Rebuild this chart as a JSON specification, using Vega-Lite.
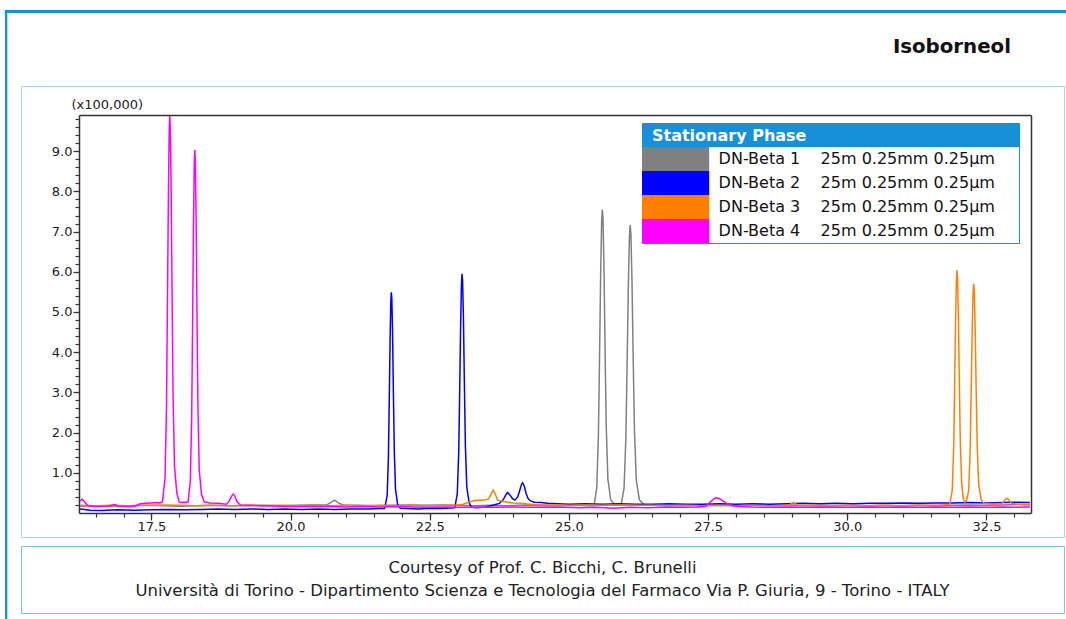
{
  "$schema": "https://vega.github.io/schema/vega-lite/v6.json",
  "padding": {"left": 5, "top": 10, "right": 0, "bottom": 0},
  "background": "white",
  "config": {
    "view": {"stroke": null},
    "font": "DejaVu Sans",
    "axis": {"grid": false, "labelFont": "DejaVu Sans", "labelFontSize": 13, "labelColor": "#222222", "tickColor": "#333333", "domainColor": "#333333", "domainWidth": 1.5, "tickWidth": 1.2, "titleFont": "DejaVu Sans"}
  },
  "datasets": {
    "trace": [
      {"p":"DN-Beta 1","t":16.22,"v":0.17},{"p":"DN-Beta 1","t":16.5,"v":0.18},{"p":"DN-Beta 1","t":16.8,"v":0.17},{"p":"DN-Beta 1","t":17.1,"v":0.18},{"p":"DN-Beta 1","t":17.4,"v":0.19},{"p":"DN-Beta 1","t":17.7,"v":0.18},{"p":"DN-Beta 1","t":18.0,"v":0.17},{"p":"DN-Beta 1","t":18.3,"v":0.18},{"p":"DN-Beta 1","t":18.6,"v":0.19},{"p":"DN-Beta 1","t":18.9,"v":0.18},{"p":"DN-Beta 1","t":19.2,"v":0.18},{"p":"DN-Beta 1","t":19.5,"v":0.19},{"p":"DN-Beta 1","t":19.8,"v":0.18},{"p":"DN-Beta 1","t":20.1,"v":0.19},{"p":"DN-Beta 1","t":20.4,"v":0.2},{"p":"DN-Beta 1","t":20.65,"v":0.2},{"p":"DN-Beta 1","t":20.72,"v":0.26},{"p":"DN-Beta 1","t":20.79,"v":0.32},{"p":"DN-Beta 1","t":20.86,"v":0.25},{"p":"DN-Beta 1","t":20.95,"v":0.2},{"p":"DN-Beta 1","t":21.2,"v":0.19},{"p":"DN-Beta 1","t":21.5,"v":0.18},{"p":"DN-Beta 1","t":21.8,"v":0.19},{"p":"DN-Beta 1","t":22.1,"v":0.2},{"p":"DN-Beta 1","t":22.4,"v":0.19},{"p":"DN-Beta 1","t":22.7,"v":0.2},{"p":"DN-Beta 1","t":23.0,"v":0.19},{"p":"DN-Beta 1","t":23.3,"v":0.18},{"p":"DN-Beta 1","t":23.6,"v":0.19},{"p":"DN-Beta 1","t":23.9,"v":0.18},{"p":"DN-Beta 1","t":24.2,"v":0.2},{"p":"DN-Beta 1","t":24.5,"v":0.19},{"p":"DN-Beta 1","t":24.8,"v":0.18},{"p":"DN-Beta 1","t":25.1,"v":0.19},{"p":"DN-Beta 1","t":25.35,"v":0.18},{"p":"DN-Beta 1","t":25.45,"v":0.18},{"p":"DN-Beta 1","t":25.5,"v":0.62},{"p":"DN-Beta 1","t":25.53,"v":1.95},{"p":"DN-Beta 1","t":25.55,"v":3.87},{"p":"DN-Beta 1","t":25.57,"v":5.93},{"p":"DN-Beta 1","t":25.588,"v":7.26},{"p":"DN-Beta 1","t":25.6,"v":7.55},{"p":"DN-Beta 1","t":25.612,"v":7.33},{"p":"DN-Beta 1","t":25.63,"v":6.08},{"p":"DN-Beta 1","t":25.65,"v":4.01},{"p":"DN-Beta 1","t":25.67,"v":2.17},{"p":"DN-Beta 1","t":25.7,"v":0.84},{"p":"DN-Beta 1","t":25.75,"v":0.33},{"p":"DN-Beta 1","t":25.82,"v":0.21},{"p":"DN-Beta 1","t":25.935,"v":0.19},{"p":"DN-Beta 1","t":25.99,"v":0.61},{"p":"DN-Beta 1","t":26.023,"v":1.86},{"p":"DN-Beta 1","t":26.045,"v":3.68},{"p":"DN-Beta 1","t":26.067,"v":5.63},{"p":"DN-Beta 1","t":26.087,"v":6.88},{"p":"DN-Beta 1","t":26.1,"v":7.16},{"p":"DN-Beta 1","t":26.113,"v":6.95},{"p":"DN-Beta 1","t":26.133,"v":5.77},{"p":"DN-Beta 1","t":26.155,"v":3.81},{"p":"DN-Beta 1","t":26.177,"v":2.07},{"p":"DN-Beta 1","t":26.21,"v":0.82},{"p":"DN-Beta 1","t":26.265,"v":0.33},{"p":"DN-Beta 1","t":26.34,"v":0.21},{"p":"DN-Beta 1","t":26.5,"v":0.19},{"p":"DN-Beta 1","t":26.8,"v":0.18},{"p":"DN-Beta 1","t":27.1,"v":0.19},{"p":"DN-Beta 1","t":27.4,"v":0.18},{"p":"DN-Beta 1","t":27.7,"v":0.19},{"p":"DN-Beta 1","t":28.0,"v":0.18},{"p":"DN-Beta 1","t":28.3,"v":0.19},{"p":"DN-Beta 1","t":28.6,"v":0.2},{"p":"DN-Beta 1","t":28.9,"v":0.19},{"p":"DN-Beta 1","t":29.2,"v":0.18},{"p":"DN-Beta 1","t":29.5,"v":0.19},{"p":"DN-Beta 1","t":29.8,"v":0.18},{"p":"DN-Beta 1","t":30.1,"v":0.19},{"p":"DN-Beta 1","t":30.4,"v":0.18},{"p":"DN-Beta 1","t":30.7,"v":0.19},{"p":"DN-Beta 1","t":31.0,"v":0.18},{"p":"DN-Beta 1","t":31.3,"v":0.19},{"p":"DN-Beta 1","t":31.6,"v":0.18},{"p":"DN-Beta 1","t":31.9,"v":0.19},{"p":"DN-Beta 1","t":32.2,"v":0.2},{"p":"DN-Beta 1","t":32.5,"v":0.19},{"p":"DN-Beta 1","t":32.8,"v":0.2},{"p":"DN-Beta 1","t":33.0,"v":0.21},{"p":"DN-Beta 1","t":33.28,"v":0.2},

      {"p":"DN-Beta 2","t":16.22,"v":0.1},{"p":"DN-Beta 2","t":16.4,"v":0.07},{"p":"DN-Beta 2","t":16.6,"v":0.06},{"p":"DN-Beta 2","t":16.9,"v":0.08},{"p":"DN-Beta 2","t":17.2,"v":0.07},{"p":"DN-Beta 2","t":17.5,"v":0.08},{"p":"DN-Beta 2","t":17.8,"v":0.09},{"p":"DN-Beta 2","t":18.1,"v":0.08},{"p":"DN-Beta 2","t":18.4,"v":0.09},{"p":"DN-Beta 2","t":18.7,"v":0.1},{"p":"DN-Beta 2","t":19.0,"v":0.09},{"p":"DN-Beta 2","t":19.3,"v":0.1},{"p":"DN-Beta 2","t":19.6,"v":0.09},{"p":"DN-Beta 2","t":19.9,"v":0.1},{"p":"DN-Beta 2","t":20.2,"v":0.09},{"p":"DN-Beta 2","t":20.5,"v":0.1},{"p":"DN-Beta 2","t":20.8,"v":0.09},{"p":"DN-Beta 2","t":21.1,"v":0.1},{"p":"DN-Beta 2","t":21.4,"v":0.1},{"p":"DN-Beta 2","t":21.6,"v":0.11},{"p":"DN-Beta 2","t":21.69,"v":0.11},{"p":"DN-Beta 2","t":21.735,"v":0.43},{"p":"DN-Beta 2","t":21.758,"v":1.4},{"p":"DN-Beta 2","t":21.773,"v":2.8},{"p":"DN-Beta 2","t":21.788,"v":4.31},{"p":"DN-Beta 2","t":21.801,"v":5.27},{"p":"DN-Beta 2","t":21.81,"v":5.49},{"p":"DN-Beta 2","t":21.819,"v":5.33},{"p":"DN-Beta 2","t":21.833,"v":4.41},{"p":"DN-Beta 2","t":21.848,"v":2.91},{"p":"DN-Beta 2","t":21.863,"v":1.56},{"p":"DN-Beta 2","t":21.885,"v":0.59},{"p":"DN-Beta 2","t":21.923,"v":0.22},{"p":"DN-Beta 2","t":21.97,"v":0.12},{"p":"DN-Beta 2","t":22.1,"v":0.11},{"p":"DN-Beta 2","t":22.3,"v":0.1},{"p":"DN-Beta 2","t":22.5,"v":0.12},{"p":"DN-Beta 2","t":22.7,"v":0.11},{"p":"DN-Beta 2","t":22.95,"v":0.13},{"p":"DN-Beta 2","t":22.995,"v":0.48},{"p":"DN-Beta 2","t":23.021,"v":1.53},{"p":"DN-Beta 2","t":23.038,"v":3.04},{"p":"DN-Beta 2","t":23.055,"v":4.67},{"p":"DN-Beta 2","t":23.07,"v":5.72},{"p":"DN-Beta 2","t":23.08,"v":5.95},{"p":"DN-Beta 2","t":23.09,"v":5.78},{"p":"DN-Beta 2","t":23.106,"v":4.79},{"p":"DN-Beta 2","t":23.123,"v":3.16},{"p":"DN-Beta 2","t":23.14,"v":1.7},{"p":"DN-Beta 2","t":23.165,"v":0.65},{"p":"DN-Beta 2","t":23.208,"v":0.25},{"p":"DN-Beta 2","t":23.25,"v":0.14},{"p":"DN-Beta 2","t":23.35,"v":0.13},{"p":"DN-Beta 2","t":23.5,"v":0.15},{"p":"DN-Beta 2","t":23.65,"v":0.2},{"p":"DN-Beta 2","t":23.75,"v":0.24},{"p":"DN-Beta 2","t":23.82,"v":0.33},{"p":"DN-Beta 2","t":23.87,"v":0.46},{"p":"DN-Beta 2","t":23.9,"v":0.51},{"p":"DN-Beta 2","t":23.94,"v":0.45},{"p":"DN-Beta 2","t":23.99,"v":0.35},{"p":"DN-Beta 2","t":24.03,"v":0.32},{"p":"DN-Beta 2","t":24.08,"v":0.4},{"p":"DN-Beta 2","t":24.12,"v":0.58},{"p":"DN-Beta 2","t":24.15,"v":0.72},{"p":"DN-Beta 2","t":24.17,"v":0.75},{"p":"DN-Beta 2","t":24.2,"v":0.66},{"p":"DN-Beta 2","t":24.23,"v":0.49},{"p":"DN-Beta 2","t":24.27,"v":0.35},{"p":"DN-Beta 2","t":24.31,"v":0.3},{"p":"DN-Beta 2","t":24.38,"v":0.27},{"p":"DN-Beta 2","t":24.5,"v":0.26},{"p":"DN-Beta 2","t":24.62,"v":0.24},{"p":"DN-Beta 2","t":24.8,"v":0.23},{"p":"DN-Beta 2","t":25.0,"v":0.22},{"p":"DN-Beta 2","t":25.3,"v":0.23},{"p":"DN-Beta 2","t":25.6,"v":0.22},{"p":"DN-Beta 2","t":25.9,"v":0.23},{"p":"DN-Beta 2","t":26.2,"v":0.22},{"p":"DN-Beta 2","t":26.5,"v":0.22},{"p":"DN-Beta 2","t":26.8,"v":0.23},{"p":"DN-Beta 2","t":27.1,"v":0.22},{"p":"DN-Beta 2","t":27.4,"v":0.22},{"p":"DN-Beta 2","t":27.7,"v":0.23},{"p":"DN-Beta 2","t":28.0,"v":0.22},{"p":"DN-Beta 2","t":28.3,"v":0.23},{"p":"DN-Beta 2","t":28.6,"v":0.22},{"p":"DN-Beta 2","t":28.9,"v":0.23},{"p":"DN-Beta 2","t":29.2,"v":0.24},{"p":"DN-Beta 2","t":29.5,"v":0.23},{"p":"DN-Beta 2","t":29.8,"v":0.24},{"p":"DN-Beta 2","t":30.1,"v":0.23},{"p":"DN-Beta 2","t":30.4,"v":0.24},{"p":"DN-Beta 2","t":30.7,"v":0.24},{"p":"DN-Beta 2","t":31.0,"v":0.25},{"p":"DN-Beta 2","t":31.3,"v":0.24},{"p":"DN-Beta 2","t":31.6,"v":0.25},{"p":"DN-Beta 2","t":31.9,"v":0.25},{"p":"DN-Beta 2","t":32.2,"v":0.26},{"p":"DN-Beta 2","t":32.5,"v":0.25},{"p":"DN-Beta 2","t":32.8,"v":0.26},{"p":"DN-Beta 2","t":33.0,"v":0.27},{"p":"DN-Beta 2","t":33.28,"v":0.26},

      {"p":"DN-Beta 3","t":16.22,"v":0.19},{"p":"DN-Beta 3","t":16.5,"v":0.18},{"p":"DN-Beta 3","t":16.8,"v":0.19},{"p":"DN-Beta 3","t":17.1,"v":0.18},{"p":"DN-Beta 3","t":17.4,"v":0.19},{"p":"DN-Beta 3","t":17.7,"v":0.2},{"p":"DN-Beta 3","t":18.0,"v":0.19},{"p":"DN-Beta 3","t":18.3,"v":0.18},{"p":"DN-Beta 3","t":18.6,"v":0.19},{"p":"DN-Beta 3","t":18.9,"v":0.18},{"p":"DN-Beta 3","t":19.2,"v":0.19},{"p":"DN-Beta 3","t":19.5,"v":0.18},{"p":"DN-Beta 3","t":19.8,"v":0.19},{"p":"DN-Beta 3","t":20.1,"v":0.18},{"p":"DN-Beta 3","t":20.4,"v":0.19},{"p":"DN-Beta 3","t":20.7,"v":0.18},{"p":"DN-Beta 3","t":21.0,"v":0.19},{"p":"DN-Beta 3","t":21.3,"v":0.18},{"p":"DN-Beta 3","t":21.6,"v":0.19},{"p":"DN-Beta 3","t":21.9,"v":0.18},{"p":"DN-Beta 3","t":22.2,"v":0.19},{"p":"DN-Beta 3","t":22.5,"v":0.18},{"p":"DN-Beta 3","t":22.8,"v":0.19},{"p":"DN-Beta 3","t":23.0,"v":0.2},{"p":"DN-Beta 3","t":23.1,"v":0.22},{"p":"DN-Beta 3","t":23.2,"v":0.27},{"p":"DN-Beta 3","t":23.3,"v":0.31},{"p":"DN-Beta 3","t":23.4,"v":0.32},{"p":"DN-Beta 3","t":23.5,"v":0.33},{"p":"DN-Beta 3","t":23.56,"v":0.35},{"p":"DN-Beta 3","t":23.6,"v":0.47},{"p":"DN-Beta 3","t":23.64,"v":0.57},{"p":"DN-Beta 3","t":23.68,"v":0.46},{"p":"DN-Beta 3","t":23.72,"v":0.32},{"p":"DN-Beta 3","t":23.84,"v":0.28},{"p":"DN-Beta 3","t":24.0,"v":0.25},{"p":"DN-Beta 3","t":24.14,"v":0.24},{"p":"DN-Beta 3","t":24.3,"v":0.22},{"p":"DN-Beta 3","t":24.5,"v":0.2},{"p":"DN-Beta 3","t":24.8,"v":0.2},{"p":"DN-Beta 3","t":25.0,"v":0.19},{"p":"DN-Beta 3","t":25.3,"v":0.2},{"p":"DN-Beta 3","t":25.6,"v":0.19},{"p":"DN-Beta 3","t":25.9,"v":0.2},{"p":"DN-Beta 3","t":26.2,"v":0.19},{"p":"DN-Beta 3","t":26.5,"v":0.19},{"p":"DN-Beta 3","t":26.8,"v":0.18},{"p":"DN-Beta 3","t":27.1,"v":0.19},{"p":"DN-Beta 3","t":27.4,"v":0.18},{"p":"DN-Beta 3","t":27.7,"v":0.19},{"p":"DN-Beta 3","t":28.0,"v":0.18},{"p":"DN-Beta 3","t":28.3,"v":0.19},{"p":"DN-Beta 3","t":28.6,"v":0.18},{"p":"DN-Beta 3","t":28.95,"v":0.19},{"p":"DN-Beta 3","t":29.03,"v":0.26},{"p":"DN-Beta 3","t":29.1,"v":0.2},{"p":"DN-Beta 3","t":29.4,"v":0.19},{"p":"DN-Beta 3","t":29.7,"v":0.18},{"p":"DN-Beta 3","t":30.0,"v":0.19},{"p":"DN-Beta 3","t":30.3,"v":0.18},{"p":"DN-Beta 3","t":30.6,"v":0.19},{"p":"DN-Beta 3","t":30.9,"v":0.18},{"p":"DN-Beta 3","t":31.2,"v":0.19},{"p":"DN-Beta 3","t":31.5,"v":0.19},{"p":"DN-Beta 3","t":31.7,"v":0.2},{"p":"DN-Beta 3","t":31.84,"v":0.21},{"p":"DN-Beta 3","t":31.885,"v":0.56},{"p":"DN-Beta 3","t":31.911,"v":1.61},{"p":"DN-Beta 3","t":31.928,"v":3.13},{"p":"DN-Beta 3","t":31.945,"v":4.76},{"p":"DN-Beta 3","t":31.96,"v":5.81},{"p":"DN-Beta 3","t":31.97,"v":6.04},{"p":"DN-Beta 3","t":31.98,"v":5.87},{"p":"DN-Beta 3","t":31.996,"v":4.87},{"p":"DN-Beta 3","t":32.013,"v":3.24},{"p":"DN-Beta 3","t":32.03,"v":1.78},{"p":"DN-Beta 3","t":32.055,"v":0.73},{"p":"DN-Beta 3","t":32.08,"v":0.38},{"p":"DN-Beta 3","t":32.11,"v":0.27},{"p":"DN-Beta 3","t":32.14,"v":0.3},{"p":"DN-Beta 3","t":32.18,"v":0.55},{"p":"DN-Beta 3","t":32.207,"v":1.54},{"p":"DN-Beta 3","t":32.225,"v":2.96},{"p":"DN-Beta 3","t":32.243,"v":4.49},{"p":"DN-Beta 3","t":32.259,"v":5.48},{"p":"DN-Beta 3","t":32.27,"v":5.7},{"p":"DN-Beta 3","t":32.281,"v":5.54},{"p":"DN-Beta 3","t":32.297,"v":4.6},{"p":"DN-Beta 3","t":32.315,"v":3.07},{"p":"DN-Beta 3","t":32.333,"v":1.7},{"p":"DN-Beta 3","t":32.36,"v":0.71},{"p":"DN-Beta 3","t":32.405,"v":0.33},{"p":"DN-Beta 3","t":32.45,"v":0.24},{"p":"DN-Beta 3","t":32.6,"v":0.22},{"p":"DN-Beta 3","t":32.75,"v":0.22},{"p":"DN-Beta 3","t":32.8,"v":0.26},{"p":"DN-Beta 3","t":32.84,"v":0.34},{"p":"DN-Beta 3","t":32.87,"v":0.37},{"p":"DN-Beta 3","t":32.9,"v":0.33},{"p":"DN-Beta 3","t":32.95,"v":0.24},{"p":"DN-Beta 3","t":33.05,"v":0.22},{"p":"DN-Beta 3","t":33.28,"v":0.22},

      {"p":"DN-Beta 4","t":16.22,"v":0.3},{"p":"DN-Beta 4","t":16.26,"v":0.34},{"p":"DN-Beta 4","t":16.3,"v":0.28},{"p":"DN-Beta 4","t":16.36,"v":0.18},{"p":"DN-Beta 4","t":16.5,"v":0.16},{"p":"DN-Beta 4","t":16.7,"v":0.17},{"p":"DN-Beta 4","t":16.85,"v":0.21},{"p":"DN-Beta 4","t":16.9,"v":0.17},{"p":"DN-Beta 4","t":17.1,"v":0.16},{"p":"DN-Beta 4","t":17.2,"v":0.17},{"p":"DN-Beta 4","t":17.3,"v":0.23},{"p":"DN-Beta 4","t":17.4,"v":0.24},{"p":"DN-Beta 4","t":17.5,"v":0.25},{"p":"DN-Beta 4","t":17.6,"v":0.26},{"p":"DN-Beta 4","t":17.65,"v":0.25},{"p":"DN-Beta 4","t":17.7,"v":0.28},{"p":"DN-Beta 4","t":17.745,"v":0.87},{"p":"DN-Beta 4","t":17.771,"v":2.6},{"p":"DN-Beta 4","t":17.788,"v":5.09},{"p":"DN-Beta 4","t":17.805,"v":7.77},{"p":"DN-Beta 4","t":17.82,"v":9.5},{"p":"DN-Beta 4","t":17.83,"v":9.88},{"p":"DN-Beta 4","t":17.84,"v":9.59},{"p":"DN-Beta 4","t":17.856,"v":7.96},{"p":"DN-Beta 4","t":17.873,"v":5.28},{"p":"DN-Beta 4","t":17.89,"v":2.89},{"p":"DN-Beta 4","t":17.915,"v":1.16},{"p":"DN-Beta 4","t":17.958,"v":0.49},{"p":"DN-Beta 4","t":18.0,"v":0.27},{"p":"DN-Beta 4","t":18.05,"v":0.26},{"p":"DN-Beta 4","t":18.1,"v":0.27},{"p":"DN-Beta 4","t":18.16,"v":0.28},{"p":"DN-Beta 4","t":18.2,"v":0.81},{"p":"DN-Beta 4","t":18.224,"v":2.38},{"p":"DN-Beta 4","t":18.24,"v":4.66},{"p":"DN-Beta 4","t":18.256,"v":7.11},{"p":"DN-Beta 4","t":18.27,"v":8.68},{"p":"DN-Beta 4","t":18.28,"v":9.03},{"p":"DN-Beta 4","t":18.29,"v":8.77},{"p":"DN-Beta 4","t":18.304,"v":7.28},{"p":"DN-Beta 4","t":18.32,"v":4.83},{"p":"DN-Beta 4","t":18.336,"v":2.64},{"p":"DN-Beta 4","t":18.36,"v":1.07},{"p":"DN-Beta 4","t":18.4,"v":0.46},{"p":"DN-Beta 4","t":18.45,"v":0.28},{"p":"DN-Beta 4","t":18.55,"v":0.25},{"p":"DN-Beta 4","t":18.7,"v":0.24},{"p":"DN-Beta 4","t":18.85,"v":0.22},{"p":"DN-Beta 4","t":18.9,"v":0.3},{"p":"DN-Beta 4","t":18.94,"v":0.42},{"p":"DN-Beta 4","t":18.97,"v":0.47},{"p":"DN-Beta 4","t":19.0,"v":0.42},{"p":"DN-Beta 4","t":19.04,"v":0.28},{"p":"DN-Beta 4","t":19.1,"v":0.2},{"p":"DN-Beta 4","t":19.3,"v":0.19},{"p":"DN-Beta 4","t":19.5,"v":0.18},{"p":"DN-Beta 4","t":19.8,"v":0.17},{"p":"DN-Beta 4","t":20.1,"v":0.16},{"p":"DN-Beta 4","t":20.4,"v":0.17},{"p":"DN-Beta 4","t":20.7,"v":0.16},{"p":"DN-Beta 4","t":21.0,"v":0.15},{"p":"DN-Beta 4","t":21.3,"v":0.16},{"p":"DN-Beta 4","t":21.6,"v":0.15},{"p":"DN-Beta 4","t":21.9,"v":0.16},{"p":"DN-Beta 4","t":22.2,"v":0.15},{"p":"DN-Beta 4","t":22.5,"v":0.14},{"p":"DN-Beta 4","t":22.8,"v":0.15},{"p":"DN-Beta 4","t":23.1,"v":0.14},{"p":"DN-Beta 4","t":23.4,"v":0.15},{"p":"DN-Beta 4","t":23.7,"v":0.14},{"p":"DN-Beta 4","t":24.0,"v":0.15},{"p":"DN-Beta 4","t":24.3,"v":0.14},{"p":"DN-Beta 4","t":24.6,"v":0.15},{"p":"DN-Beta 4","t":24.9,"v":0.14},{"p":"DN-Beta 4","t":25.2,"v":0.13},{"p":"DN-Beta 4","t":25.5,"v":0.14},{"p":"DN-Beta 4","t":25.8,"v":0.12},{"p":"DN-Beta 4","t":26.1,"v":0.14},{"p":"DN-Beta 4","t":26.4,"v":0.13},{"p":"DN-Beta 4","t":26.7,"v":0.14},{"p":"DN-Beta 4","t":27.0,"v":0.14},{"p":"DN-Beta 4","t":27.3,"v":0.15},{"p":"DN-Beta 4","t":27.45,"v":0.16},{"p":"DN-Beta 4","t":27.52,"v":0.25},{"p":"DN-Beta 4","t":27.58,"v":0.33},{"p":"DN-Beta 4","t":27.64,"v":0.38},{"p":"DN-Beta 4","t":27.7,"v":0.36},{"p":"DN-Beta 4","t":27.76,"v":0.31},{"p":"DN-Beta 4","t":27.82,"v":0.25},{"p":"DN-Beta 4","t":27.9,"v":0.2},{"p":"DN-Beta 4","t":28.0,"v":0.17},{"p":"DN-Beta 4","t":28.3,"v":0.15},{"p":"DN-Beta 4","t":28.6,"v":0.14},{"p":"DN-Beta 4","t":28.9,"v":0.15},{"p":"DN-Beta 4","t":29.2,"v":0.14},{"p":"DN-Beta 4","t":29.5,"v":0.15},{"p":"DN-Beta 4","t":29.8,"v":0.14},{"p":"DN-Beta 4","t":30.1,"v":0.14},{"p":"DN-Beta 4","t":30.4,"v":0.15},{"p":"DN-Beta 4","t":30.7,"v":0.14},{"p":"DN-Beta 4","t":31.0,"v":0.15},{"p":"DN-Beta 4","t":31.3,"v":0.14},{"p":"DN-Beta 4","t":31.6,"v":0.15},{"p":"DN-Beta 4","t":31.9,"v":0.14},{"p":"DN-Beta 4","t":32.2,"v":0.15},{"p":"DN-Beta 4","t":32.5,"v":0.14},{"p":"DN-Beta 4","t":32.8,"v":0.15},{"p":"DN-Beta 4","t":33.0,"v":0.14},{"p":"DN-Beta 4","t":33.28,"v":0.15}
    ]
  },
  "spacing": 0,
  "resolve": {"scale": {"color": "independent"}, "legend": {"color": "independent"}},
  "vconcat": [
    {
      "width": 1061, "height": 3,
      "view": {"fill": "#1690d8", "stroke": null},
      "data": {"values": [{"a": 0}]},
      "mark": {"type": "point", "filled": true, "size": 0, "opacity": 0}
    },
    {
      "spacing": 12,
      "resolve": {"scale": {"color": "independent"}, "legend": {"color": "independent"}},
      "hconcat": [
        {
          "width": 2.3, "height": 606,
          "view": {"fill": "#1690d8", "stroke": null},
          "data": {"values": [{"a": 0}]},
          "mark": {"type": "point", "filled": true, "size": 0, "opacity": 0}
        },
        {
          "spacing": 7,
          "resolve": {"scale": {"color": "independent"}, "legend": {"color": "independent"}},
          "vconcat": [
            {
              "width": 1, "height": 15.5,
              "view": {"fill": null, "stroke": null},
              "data": {"values": [{"a": 0}]},
              "mark": {"type": "point", "filled": true, "size": 0, "opacity": 0}
            },
            {
              "width": 1043, "height": 451,
              "title": {"text": "Isoborneol", "anchor": "end", "frame": "group", "dx": -53, "offset": 29, "fontSize": 19.8, "fontWeight": "bold", "font": "DejaVu Sans", "color": "#111111"},
              "view": {"stroke": "#a5d7f0", "strokeWidth": 1, "fill": "white"},
              "data": {"name": "trace"},
              "resolve": {"axis": {"x": "independent", "y": "independent"}},
              "layer": [
                {
                  "transform": [{"filter": "datum.p == 'DN-Beta 1'"}],
                  "mark": {"type": "line", "strokeWidth": 1.5},
                  "encoding": {
                    "x": {"field": "t", "type": "quantitative", "scale": {"domain": [16.2, 33.3], "range": [58, 1010], "nice": false, "zero": false},
                      "axis": {"orient": "bottom", "offset": -24, "values": [17.5, 20, 22.5, 25, 27.5, 30, 32.5], "format": ".1f", "tickSize": 7, "labelPadding": 0, "title": null, "domain": true}},
                    "y": {"field": "v", "type": "quantitative", "scale": {"domain": [0, 9.9], "range": [427, 29], "nice": false, "zero": false},
                      "axis": {"orient": "left", "offset": -58, "values": [1, 2, 3, 4, 5, 6, 7, 8, 9], "format": ".1f", "tickSize": 6, "labelPadding": 1, "domain": true, "title": "(x100,000)", "titleAngle": 0, "titleX": -8, "titleY": 18, "titleAlign": "left", "titleBaseline": "middle", "titleFontWeight": "normal", "titleFontSize": 13, "titleColor": "#222222"}},
                    "color": {"field": "p", "type": "nominal",
                      "scale": {"domain": ["DN-Beta 1", "DN-Beta 2", "DN-Beta 3", "DN-Beta 4"], "range": ["#808080", "#0000ff", "#ff8000", "#ff00ff"]},
                      "legend": {"title": "Stationary Phase", "orient": "none", "legendX": 621, "legendY": 37, "padding": 0, "strokeColor": "#1690d8", "fillColor": "#ffffff",
                        "titleFont": "DejaVu Sans", "titleFontSize": 16, "titleFontWeight": "bold", "titleColor": "#ffffff", "titlePadding": 8, "titleLimit": 400,
                        "labelFont": "DejaVu Sans", "labelFontSize": 16, "labelColor": "#111111", "labelLimit": 600, "labelOffset": 31,
                        "symbolType": "M-2.8,-1H2.8V1H-2.8Z", "symbolSize": 576, "symbolStrokeWidth": 0, "symbolOffset": 21.6, "rowPadding": 0,
                        "labelExpr": "datum.label + '\u00a0\u00a0\u00a0\u00a025m 0.25mm 0.25µm\u2800\u2800'",
                        "encoding": {
                          "legend": {"fill": {"value": {"gradient": "linear", "x1": 0, "y1": 0, "x2": 0, "y2": 1, "stops": [{"offset": 0, "color": "#1690d8"}, {"offset": 0.2, "color": "#1690d8"}, {"offset": 0.2, "color": "#ffffff"}, {"offset": 1, "color": "#ffffff"}]}}},
                          "symbols": {"fill": {"value": {"expr": "['#808080', '#0000ff', '#ff8000', '#ff00ff'][indexof(['DN-Beta 1', 'DN-Beta 2', 'DN-Beta 3', 'DN-Beta 4'], datum.value)]"}}, "fillOpacity": {"value": 1}},
                          "title": {"dx": {"value": 10}, "dy": {"value": 5}}
                        }}}
                  }
                },
                {
                  "transform": [{"filter": "datum.p == 'DN-Beta 2'"}],
                  "mark": {"type": "line", "strokeWidth": 1.5},
                  "encoding": {
                    "x": {"field": "t", "type": "quantitative", "scale": {"domain": [16.2, 33.3], "range": [58, 1010], "nice": false, "zero": false},
                      "axis": {"orient": "bottom", "offset": -24, "values": [16.5, 17, 17.5, 18, 18.5, 19, 19.5, 20, 20.5, 21, 21.5, 22, 22.5, 23, 23.5, 24, 24.5, 25, 25.5, 26, 26.5, 27, 27.5, 28, 28.5, 29, 29.5, 30, 30.5, 31, 31.5, 32, 32.5, 33], "labels": false, "tickSize": 4, "domain": false, "title": null}},
                    "y": {"field": "v", "type": "quantitative", "scale": {"domain": [0, 9.9], "range": [427, 29], "nice": false, "zero": false},
                      "axis": {"orient": "left", "offset": -58, "values": [0.2, 0.4, 0.6, 0.8, 1, 1.2, 1.4, 1.6, 1.8, 2, 2.2, 2.4, 2.6, 2.8, 3, 3.2, 3.4, 3.6, 3.8, 4, 4.2, 4.4, 4.6, 4.8, 5, 5.2, 5.4, 5.6, 5.8, 6, 6.2, 6.4, 6.6, 6.8, 7, 7.2, 7.4, 7.6, 7.8, 8, 8.2, 8.4, 8.6, 8.8, 9, 9.2, 9.4, 9.6, 9.8], "labels": false, "tickSize": 4, "domain": false, "title": null}},
                    "color": {"field": "p", "type": "nominal",
                      "scale": {"domain": ["DN-Beta 1", "DN-Beta 2", "DN-Beta 3", "DN-Beta 4"], "range": ["#808080", "#0000ff", "#ff8000", "#ff00ff"]}}
                  }
                },
                {
                  "transform": [{"filter": "datum.p == 'DN-Beta 3'"}],
                  "mark": {"type": "line", "strokeWidth": 1.5},
                  "encoding": {
                    "x": {"field": "t", "type": "quantitative", "scale": {"domain": [16.2, 33.3], "range": [58, 1010], "nice": false, "zero": false},
                      "axis": {"orient": "top", "offset": -29, "ticks": false, "labels": false, "domain": true, "title": null}},
                    "y": {"field": "v", "type": "quantitative", "scale": {"domain": [0, 9.9], "range": [427, 29], "nice": false, "zero": false},
                      "axis": {"orient": "right", "offset": -33, "ticks": false, "labels": false, "domain": true, "title": null}},
                    "color": {"field": "p", "type": "nominal",
                      "scale": {"domain": ["DN-Beta 1", "DN-Beta 2", "DN-Beta 3", "DN-Beta 4"], "range": ["#808080", "#0000ff", "#ff8000", "#ff00ff"]}}
                  }
                },
                {
                  "transform": [{"filter": "datum.p == 'DN-Beta 4'"}],
                  "mark": {"type": "line", "strokeWidth": 1.5},
                  "encoding": {
                    "x": {"field": "t", "type": "quantitative", "scale": {"domain": [16.2, 33.3], "range": [58, 1010], "nice": false, "zero": false}, "axis": null},
                    "y": {"field": "v", "type": "quantitative", "scale": {"domain": [0, 9.9], "range": [427, 29], "nice": false, "zero": false}, "axis": null},
                    "color": {"field": "p", "type": "nominal",
                      "scale": {"domain": ["DN-Beta 1", "DN-Beta 2", "DN-Beta 3", "DN-Beta 4"], "range": ["#808080", "#0000ff", "#ff8000", "#ff00ff"]}}
                  }
                }
              ]
            },
            {
              "width": 1043, "height": 67,
              "view": {"stroke": "#7cc5ea", "strokeWidth": 1, "fill": "white"},
              "data": {"values": [
                {"line": 1, "text": "Courtesy of Prof. C. Bicchi, C. Brunelli"},
                {"line": 2, "text": "Università di Torino - Dipartimento Scienza e Tecnologia del Farmaco Via P. Giuria, 9 - Torino - ITALY"}
              ]},
              "mark": {"type": "text", "font": "DejaVu Sans", "fontSize": 16.5, "color": "#222222"},
              "encoding": {
                "y": {"field": "line", "type": "ordinal", "axis": null, "scale": {"type": "point", "padding": 1}},
                "text": {"field": "text", "type": "nominal"}
              }
            }
          ]
        }
      ]
    }
  ]
}
